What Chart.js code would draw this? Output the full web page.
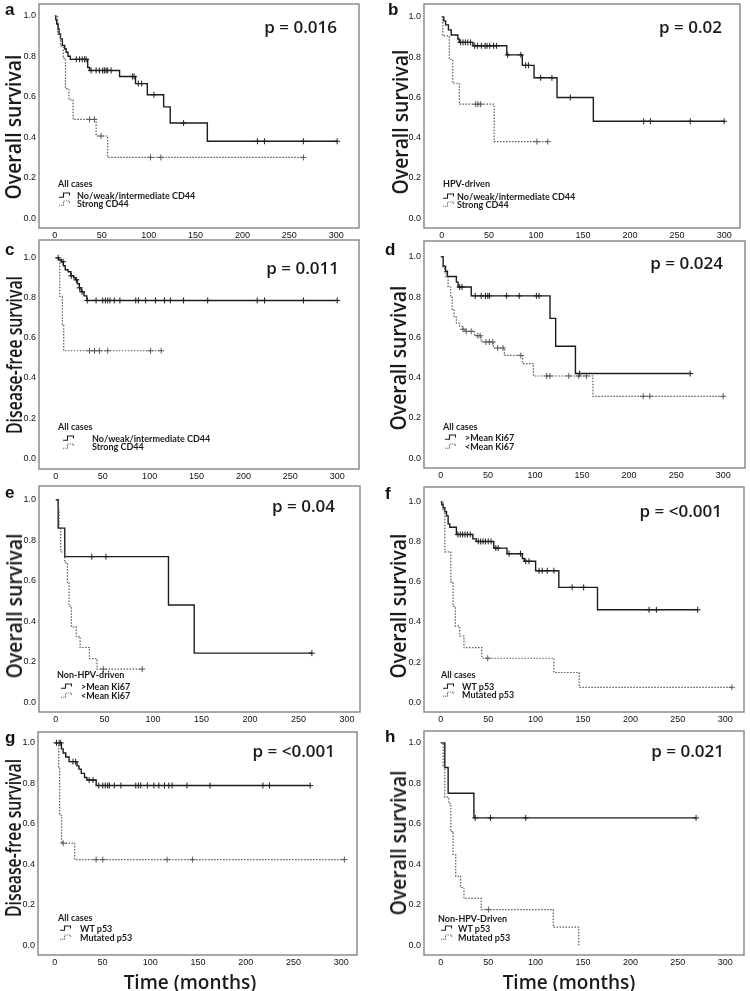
<!DOCTYPE html>
<html><head><meta charset="utf-8">
<script src="https://cdn.jsdelivr.net/npm/chart.js@4.4.1/dist/chart.umd.min.js"></script>
<style>
html,body{margin:0;padding:0;background:#fff;}
#fig{position:relative;width:750px;height:991px;overflow:hidden;font-family:"Open Sans",Lato,sans-serif;color:#111;}
#fig canvas{position:absolute;}
.ytitle{position:absolute;white-space:nowrap;font-size:22px;font-weight:600;line-height:1;color:#1a1a1a;}
.pval{position:absolute;white-space:nowrap;font-size:17px;font-weight:600;line-height:1;transform:translate(-100%,-50%);color:#1a1a1a;}
.letter{position:absolute;font-family:"Liberation Sans",Arial,sans-serif;font-weight:bold;font-size:17px;line-height:1;}
.leg{position:absolute;white-space:nowrap;font-family:Lato,sans-serif;font-size:9px;line-height:1;font-weight:700;transform:translateY(-50%);color:#1a1a1a;}
.legicon{position:absolute;transform:translateY(-50%);}
.xtitle{position:absolute;white-space:nowrap;font-size:19px;font-weight:600;line-height:1;transform:translate(-50%,-50%);color:#1a1a1a;}
</style></head>
<body><div id="fig"></div>
<script>
// ---------- shared tick labels ----------
const TICKS_X = [0, 50, 100, 150, 200, 250, 300];
const TICKS_Y = [0, 0.2, 0.4, 0.6, 0.8, 1.0];

// ---------- legend / text labels ----------
const legendCD44 = ['No/weak/intermediate CD44', 'Strong CD44'];
const legendKi67 = ['>Mean Ki67', '<Mean Ki67'];
const legendP53 = ['WT p53', 'Mutated p53'];

// ---------- panel a : OS, CD44, all cases ----------
const a_solid_time = [0, 1, 2, 3.5, 4.5, 6, 8, 10.5, 12, 14, 16.5, 35, 37, 69, 86, 98.6, 116, 123, 162.6, 301];
const a_solid_surv = [1, 0.98, 0.96, 0.935, 0.91, 0.886, 0.854, 0.837, 0.82, 0.80, 0.785, 0.745, 0.73, 0.70, 0.665, 0.61, 0.55, 0.47, 0.38, 0.38];
const a_solid_cens = [22.9, 26.4, 29.2, 31.7, 33.4, 38.7, 44, 47.5, 51, 52.8, 54.6, 56.3, 60, 82.7, 84.5, 89, 92.6, 105.6, 137.3, 216, 223.5, 265, 301];
const a_dot_time = [0, 3, 6, 9, 11.3, 15, 19.4, 44, 56.3, 265];
const a_dot_surv = [1, 0.91, 0.85, 0.79, 0.64, 0.585, 0.488, 0.406, 0.30, 0.30];
const a_dot_cens = [37, 42.2, 49.3, 102, 113, 265];

// ---------- panel b : OS, CD44, HPV-driven ----------
const b_solid_time = [0, 2, 4, 7, 10, 17, 18.5, 33, 69, 85.5, 98, 122.4, 161, 300];
const b_solid_surv = [1, 0.98, 0.96, 0.935, 0.91, 0.89, 0.873, 0.856, 0.811, 0.759, 0.697, 0.599, 0.481, 0.481];
const b_solid_cens = [20, 22.5, 25, 27.5, 30.5, 35, 38, 42, 46, 48, 51, 55, 58, 70, 84, 89, 92, 105, 117, 136.5, 214.5, 221.6, 264, 300];
const b_dot_time = [0, 1, 8, 11.6, 18.6, 55.6, 112.5];
const b_dot_surv = [1, 0.905, 0.788, 0.67, 0.566, 0.38, 0.38];
const b_dot_cens = [36, 38.5, 41, 101, 112.5];

// ---------- panel c : DFS, CD44, all cases ----------
const c_solid_time = [0, 3, 6, 8, 10, 13, 16, 19, 21, 23, 25, 27, 30, 33, 300];
const c_solid_surv = [1, 0.99, 0.98, 0.96, 0.94, 0.93, 0.91, 0.90, 0.89, 0.87, 0.85, 0.83, 0.81, 0.787, 0.787];
const c_solid_cens = [2.5, 7.7, 16.5, 21.8, 25.3, 28, 33.5, 42.9, 50, 52.8, 55.3, 57.7, 62.3, 68.3, 85.2, 88, 95.7, 106.3, 115.8, 122.1, 136.2, 161.9, 214.7, 222.5, 264, 300];
const c_dot_time = [0, 4.2, 7, 8.4, 112.3];
const c_dot_surv = [1, 0.807, 0.664, 0.536, 0.536];
const c_dot_cens = [35.9, 41.2, 46.5, 55.3, 101, 112.3];

// ---------- panel d : OS, Ki67, all cases ----------
const d_solid_time = [0, 2.5, 5, 7, 16.5, 18.3, 32.3, 116, 122, 143, 265];
const d_solid_surv = [1, 0.953, 0.928, 0.902, 0.874, 0.85, 0.806, 0.694, 0.556, 0.42, 0.42];
const d_solid_cens = [20, 22.5, 36.5, 42.9, 47.4, 49.9, 51.6, 69.9, 83.3, 101.5, 104.3, 147.5, 265];
const d_dot_time = [0, 2.5, 4, 5.5, 7.7, 10.5, 12, 14, 16.5, 20, 23.5, 25.3, 35.8, 42.9, 55.9, 67.5, 86.8, 98.4, 161.6, 300];
const d_dot_surv = [1, 0.95, 0.92, 0.90, 0.85, 0.80, 0.74, 0.70, 0.67, 0.655, 0.64, 0.63, 0.608, 0.577, 0.547, 0.51, 0.469, 0.408, 0.307, 0.307];
const d_dot_cens = [23.5, 27, 32.3, 39.3, 41.8, 48, 51.6, 55.2, 60.4, 66, 85, 112.4, 115.9, 136, 146.5, 154.6, 215, 222, 300];

// ---------- panel e : OS, Ki67, non-HPV-driven ----------
const e_solid_time = [0, 2.4, 9.2, 116, 142.5, 263.7];
const e_solid_surv = [1, 0.86, 0.719, 0.48, 0.242, 0.242];
const e_solid_cens = [37, 51.6, 263.7];
const e_dot_time = [0, 2.4, 3.4, 5, 9.2, 11.9, 13.6, 16, 21, 25, 34.6, 42.4, 89];
const e_dot_surv = [1, 0.95, 0.86, 0.743, 0.689, 0.589, 0.475, 0.372, 0.324, 0.27, 0.215, 0.163, 0.163];
const e_dot_cens = [48.9, 89];

// ---------- panel f : OS, p53, all cases ----------
const f_solid_time = [0, 1, 2.4, 4.2, 6, 7.7, 9.4, 16.4, 33.8, 37.3, 55.8, 69.8, 86, 88, 100, 124.5, 165.3, 271];
const f_solid_surv = [1, 0.985, 0.97, 0.95, 0.93, 0.89, 0.873, 0.837, 0.815, 0.802, 0.769, 0.741, 0.717, 0.703, 0.656, 0.573, 0.461, 0.461];
const f_solid_cens = [18, 20.5, 23, 25.5, 28, 31, 39.5, 42, 44.5, 47, 50, 53, 58, 60.5, 72, 84, 89.6, 93, 103.6, 107, 112.3, 119.3, 138.5, 150.7, 219.7, 227.4, 271];
const f_dot_time = [0, 2.4, 4.2, 10.5, 12.9, 15.3, 19.9, 24.4, 43.2, 119.3, 146, 307];
const f_dot_surv = [1, 0.96, 0.75, 0.60, 0.478, 0.379, 0.33, 0.272, 0.219, 0.148, 0.074, 0.074];
const f_dot_cens = [49.5, 307];

// ---------- panel g : DFS, p53, all cases ----------
const g_solid_time = [0, 6.9, 8.7, 11.4, 14.9, 23.2, 25.3, 27.7, 31.1, 33.6, 43.3, 267.5];
const g_solid_surv = [1, 0.97, 0.95, 0.93, 0.907, 0.886, 0.87, 0.849, 0.829, 0.816, 0.789, 0.789];
const g_solid_cens = [1.7, 4.5, 6.2, 19, 21.8, 36, 40, 46, 50.2, 52.9, 55.4, 57.1, 62.3, 69.2, 84.8, 87.5, 90, 96.9, 103.8, 109, 114.9, 119.4, 122.8, 138.4, 162.6, 218, 224.9, 267.5];
const g_dot_time = [0, 4, 5, 7, 20.8, 303.4];
const g_dot_surv = [1, 0.88, 0.642, 0.504, 0.423, 0.423];
const g_dot_cens = [8.7, 43.3, 50.2, 117.6, 144.3, 303.4];

// ---------- panel h : OS, p53, non-HPV-driven ----------
const h_solid_time = [0, 4.2, 7.7, 34.9, 269.3];
const h_solid_surv = [1, 0.878, 0.751, 0.629, 0.629];
const h_solid_cens = [36.3, 52.3, 89.6, 269.3];
const h_dot_time = [0, 2.4, 4.2, 8.4, 10.5, 12.9, 15.7, 20.9, 24.4, 42.6, 118.6, 145.5];
const h_dot_surv = [1, 0.88, 0.732, 0.70, 0.561, 0.447, 0.341, 0.285, 0.231, 0.176, 0.089, 0.0];
const h_dot_cens = [50.2];

// ---------- layout (page pixels) ----------
const panels = [
  {letter:'a', lpos:[5,1], yt:'Overall survival', ytc:[12,127], p:'p = 0.016', pp:[337,26],
   box:[39,1,362,228], xpx:[55,339], ypx:[13,218],
   S:[a_solid_time,a_solid_surv,a_solid_cens], D:[a_dot_time,a_dot_surv,a_dot_cens],
   lg:{head:'All cases', items:legendCD44, hx:58, hy:183, r:[195,203], ix:59, tx:77}},
  {letter:'b', lpos:[388,1], yt:'Overall survival', ytc:[399,122], p:'p = 0.02', pp:[722,26],
   box:[424,1,743,228], xpx:[442,727], ypx:[14,218],
   S:[b_solid_time,b_solid_surv,b_solid_cens], D:[b_dot_time,b_dot_surv,b_dot_cens],
   lg:{head:'HPV-driven', items:legendCD44, hx:443, hy:183, r:[196,204], ix:443, tx:457}},
  {letter:'c', lpos:[5,241], yt:'Disease-free survival', ytc:[13,355], p:'p = 0.011', pp:[339,267],
   box:[39,237,362,469], xpx:[56,340], ypx:[255,458],
   S:[c_solid_time,c_solid_surv,c_solid_cens], D:[c_dot_time,c_dot_surv,c_dot_cens],
   lg:{head:'All cases', items:legendCD44, hx:58, hy:426, r:[438,446], ix:63, tx:92}},
  {letter:'d', lpos:[385,241], yt:'Overall survival', ytc:[397,358], p:'p = 0.024', pp:[723,262],
   box:[424,238,748,468], xpx:[441,726], ypx:[254,458],
   S:[d_solid_time,d_solid_surv,d_solid_cens], D:[d_dot_time,d_dot_surv,d_dot_cens],
   lg:{head:'All cases', items:legendKi67, hx:443, hy:426, r:[437,446], ix:445, tx:465}},
  {letter:'e', lpos:[5,484], yt:'Overall survival', ytc:[13,606], p:'p = 0.04', pp:[335,505],
   box:[39,483,363,712], xpx:[56,350], ypx:[497,702],
   S:[e_solid_time,e_solid_surv,e_solid_cens], D:[e_dot_time,e_dot_surv,e_dot_cens],
   lg:{head:'Non-HPV-driven', items:legendKi67, hx:57, hy:674, r:[686,695], ix:61, tx:81}},
  {letter:'f', lpos:[385,485], yt:'Overall survival', ytc:[397,606], p:'p = <0.001', pp:[722,510],
   box:[424,484,747,712], xpx:[441,728], ypx:[499,702],
   S:[f_solid_time,f_solid_surv,f_solid_cens], D:[f_dot_time,f_dot_surv,f_dot_cens],
   lg:{head:'All cases', items:legendP53, hx:441, hy:674, r:[686,694], ix:443, tx:462}},
  {letter:'g', lpos:[5,729], yt:'Disease-free survival', ytc:[12,838], p:'p = <0.001', pp:[335,750],
   box:[38,729,360,955], xpx:[55,344], ypx:[740,945],
   S:[g_solid_time,g_solid_surv,g_solid_cens], D:[g_dot_time,g_dot_surv,g_dot_cens],
   lg:{head:'All cases', items:legendP53, hx:58, hy:917, r:[928,937], ix:60, tx:80}},
  {letter:'h', lpos:[385,728], yt:'Overall survival', ytc:[397,843], p:'p = 0.021', pp:[724,750],
   box:[424,728,747,955], xpx:[441,728], ypx:[740,945],
   S:[h_solid_time,h_solid_surv,h_solid_cens], D:[h_dot_time,h_dot_surv,h_dot_cens],
   lg:{head:'Non-HPV-Driven', items:legendP53, hx:438, hy:918, r:[928,937], ix:441, tx:458}}
];
const xTitles = [{text:'Time (months)', c:[190,982]}, {text:'Time (months)', c:[569,982]}];
const titleLen = {'Overall survival':145, 'Disease-free survival':158};

const SOLID_COL = '#1c1c1c', DOT_COL = '#5a5a5a';
const fig = document.getElementById('fig');

function survAt(times, surv, t){
  let s = surv[0];
  for (let i = 0; i < times.length; i++){ if (times[i] <= t) s = surv[i]; else break; }
  return s;
}
function curve(times, surv){ return times.map((t,i)=>({x:t, y:surv[i]})); }
function marks(times, surv, cens){ return cens.map(t=>({x:t, y:survAt(times, surv, t)})); }

const boxPlugin = {id:'kmbox', afterDraw(chart){
  const {ctx, chartArea:a} = chart;
  ctx.save(); ctx.strokeStyle = '#8c8c8c'; ctx.lineWidth = 1.5;
  ctx.strokeRect(a.left, a.top, a.right-a.left, a.bottom-a.top); ctx.restore();
}};

function el(cls, text, left, top){
  const d = document.createElement('div'); d.className = cls; d.textContent = text;
  d.style.left = left + 'px'; d.style.top = top + 'px'; fig.appendChild(d); return d;
}
function icon(left, cy, dotted){
  const ns = 'http://www.w3.org/2000/svg';
  const s = document.createElementNS(ns, 'svg');
  s.setAttribute('width', '12'); s.setAttribute('height', '6'); s.setAttribute('class', 'legicon');
  s.style.left = left + 'px'; s.style.top = cy + 'px';
  const p = document.createElementNS(ns, 'path');
  p.setAttribute('d', 'M0 5.3 H4.5 V1 H10.5 V3.5');
  p.setAttribute('fill', 'none'); p.setAttribute('stroke', dotted ? DOT_COL : SOLID_COL);
  p.setAttribute('stroke-width', '1.1');
  if (dotted) p.setAttribute('stroke-dasharray', '1.1 1.1');
  s.appendChild(p); fig.appendChild(s);
}

const tickFont = {family:'"Liberation Sans", Arial, sans-serif', size:9};

panels.forEach(P => {
  const [L,T,R,B] = P.box; const W = 26, H = 14, PAD = 2;
  const cv = document.createElement('canvas');
  const cw = R - L + W + PAD, ch = B - T + H + PAD;
  cv.width = cw; cv.height = ch;
  cv.style.left = (L - W) + 'px'; cv.style.top = (T - PAD) + 'px';
  cv.style.width = cw + 'px'; cv.style.height = ch + 'px';
  fig.appendChild(cv);
  const ppx = (P.xpx[1] - P.xpx[0]) / 300, ppy = (P.ypx[1] - P.ypx[0]);
  const xmin = (L - P.xpx[0]) / ppx, xmax = (R - P.xpx[0]) / ppx;
  const ymax = (P.ypx[1] - T) / ppy, ymin = (P.ypx[1] - B) / ppy;
  const [st, ss, sc] = P.S, [dt, ds, dc] = P.D;
  new Chart(cv, {
    type: 'line',
    data: {datasets: [
      {data: curve(dt, ds), stepped: true, borderColor: DOT_COL, borderWidth: 1.2, borderDash: [1.5, 1.5], pointRadius: 0, fill: false},
      {data: curve(st, ss), stepped: true, borderColor: SOLID_COL, borderWidth: 1.4, pointRadius: 0, fill: false},
      {data: marks(dt, ds, dc), showLine: false, pointStyle: 'cross', pointRadius: 3, pointBorderWidth: 1, pointBorderColor: DOT_COL, pointBackgroundColor: DOT_COL},
      {data: marks(st, ss, sc), showLine: false, pointStyle: 'cross', pointRadius: 3, pointBorderWidth: 1, pointBorderColor: SOLID_COL, pointBackgroundColor: SOLID_COL}
    ]},
    options: {
      responsive: false, animation: false, devicePixelRatio: 1,
      layout: {padding: {top: PAD, right: PAD, left: 0, bottom: 0}},
      plugins: {legend: {display: false}, tooltip: {enabled: false}},
      scales: {
        x: {type: 'linear', min: xmin, max: xmax,
            grid: {display: false, drawTicks: false}, border: {display: false},
            afterBuildTicks: s => { s.ticks = TICKS_X.map(v => ({value: v})); },
            afterFit: s => { s.height = H; s.paddingLeft = 0; s.paddingRight = 0; s.paddingTop = 0; s.paddingBottom = 0; },
            ticks: {autoSkip: false, maxRotation: 0, padding: 2, font: tickFont, color: '#111', callback: v => String(v)}},
        y: {type: 'linear', min: ymin, max: ymax,
            grid: {display: false, drawTicks: false}, border: {display: false},
            afterBuildTicks: s => { s.ticks = TICKS_Y.map(v => ({value: v})); },
            afterFit: s => { s.width = W; s.paddingLeft = 0; s.paddingRight = 0; s.paddingTop = 0; s.paddingBottom = 0; },
            ticks: {autoSkip: false, padding: 3, font: tickFont, color: '#111', callback: v => Number(v).toFixed(1)}}
      }
    },
    plugins: [boxPlugin]
  });

  el('letter', P.letter, P.lpos[0], P.lpos[1]);
  el('pval', P.p, P.pp[0], P.pp[1]);
  const yt = el('ytitle', P.yt, P.ytc[0], P.ytc[1]);
  yt.dataset.target = titleLen[P.yt];
  const lg = P.lg;
  el('leg', lg.head, lg.hx, lg.hy);
  icon(lg.ix, lg.r[0], false); icon(lg.ix, lg.r[1], true);
  el('leg', lg.items[0], lg.tx, lg.r[0]);
  el('leg', lg.items[1], lg.tx, lg.r[1]);
});
xTitles.forEach(t => el('xtitle', t.text, t.c[0], t.c[1]));

function fitTitles(){
  document.querySelectorAll('.ytitle').forEach(d => {
    const w = d.offsetWidth, target = +d.dataset.target;
    const f = w > 0 ? target / w : 1;
    d.style.transform = 'translate(-50%,-50%) rotate(-90deg) scaleX(' + f.toFixed(3) + ')';
  });
}
fitTitles();
if (document.fonts && document.fonts.ready) document.fonts.ready.then(fitTitles);
</script>
</body></html>
